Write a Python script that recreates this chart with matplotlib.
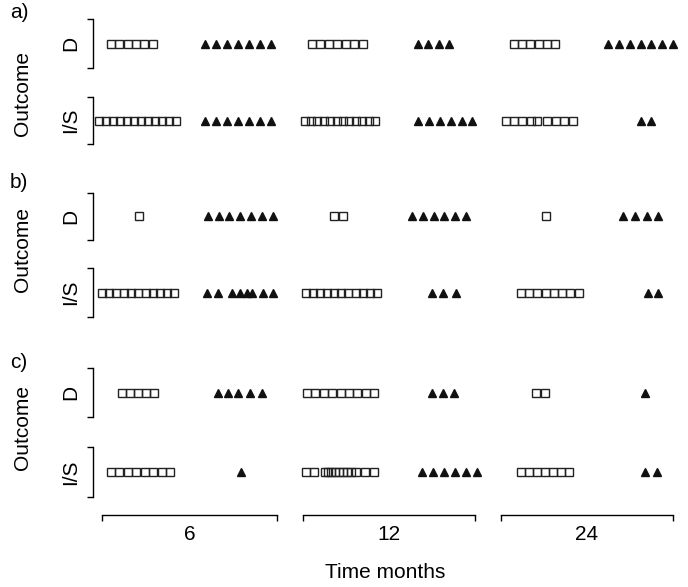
import matplotlib.pyplot as plt

plt.rcParams['font.family'] = ['Liberation Sans', 'DejaVu Sans']

# Layout: x scale runs 0..688 across the figure width
panels = ["a)", "b)", "c)"]
outcomes = ["D", "I/S"]
times = ["6", "12", "24"]

# marker positions on the x scale, per panel / outcome
# (open squares and filled triangles, all time points together)
a_d_squares = [111, 119, 128, 136, 144, 153,
               312, 320, 329, 337, 346, 354, 363,
               514, 522, 530, 539, 547, 555]
a_d_triangles = [205, 216, 227, 238, 249, 260, 271,
                 418, 428, 439, 449,
                 608, 619, 630, 641, 651, 662, 673]
a_is_squares = [99, 106, 113, 120, 127, 134, 141, 148, 155, 162, 169, 176,
                305, 311, 317, 324, 330, 337, 343, 349, 356, 362, 369, 375,
                506, 514, 522, 531, 537, 547, 556, 564, 573]
a_is_triangles = [205, 216, 227, 238, 249, 260, 271,
                  418, 429, 440, 451, 462, 472,
                  641, 651]

b_d_squares = [139,
               334, 343,
               546]
b_d_triangles = [208, 219, 229, 240, 251, 262, 273,
                 412, 423, 434, 444, 455, 466,
                 623, 635, 647, 658]
b_is_squares = [102, 109, 116, 124, 131, 138, 146, 153, 160, 167, 174,
                306, 313, 320, 327, 334, 341, 348, 356, 363, 370, 377,
                521, 529, 537, 546, 554, 562, 570, 579]
b_is_triangles = [207, 218, 232, 240, 247, 252, 263, 273,
                  432, 443, 456,
                  648, 658]

c_d_squares = [122, 130, 138, 146, 154,
               307, 315, 324, 332, 341, 349, 357, 366, 374,
               536, 545]
c_d_triangles = [218, 228, 238, 250, 262,
                 432, 443, 454,
                 645]
c_is_squares = [111, 119, 128, 136, 145, 153, 162, 170,
                306, 314, 325, 328, 331, 335, 339, 343, 347, 351, 356, 365, 374,
                521, 529, 537, 545, 553, 561, 569]
c_is_triangles = [241,
                  422, 433, 444, 455, 466, 477,
                  645, 657]

squares = [[a_d_squares, a_is_squares],
           [b_d_squares, b_is_squares],
           [c_d_squares, c_is_squares]]
triangles = [[a_d_triangles, a_is_triangles],
             [b_d_triangles, b_is_triangles],
             [c_d_triangles, c_is_triangles]]

W, H = 688, 587
fig = plt.figure(figsize=(W / 100, H / 100), dpi=100)

# row extents in pixels (top, bottom) for each panel / outcome
rows = [[(19, 68), (97, 144)],
        [(193, 240), (268, 317)],
        [(368, 417), (447, 497)]]
outcome_y = [93, 250, 427]
panel_y = [12, 183, 362]
spine_x = 93
fs = 15

for p, panel in enumerate(panels):
    for o, outcome in enumerate(outcomes):
        top, bot = rows[p][o]
        ax = fig.add_axes([spine_x / W, 1 - bot / H, (W - spine_x) / W, (bot - top) / H])
        ax.set_xlim(spine_x, W)
        ax.set_ylim(0, 1)
        y = [0.5]
        ax.plot(squares[p][o], y * len(squares[p][o]), ls='none', marker='s',
                ms=5.6, mfc='none', mec='#222222', mew=1.0)
        ax.plot(triangles[p][o], y * len(triangles[p][o]), ls='none', marker='^',
                ms=6, color='#111111')
        for s in ['top', 'right', 'bottom']:
            ax.spines[s].set_visible(False)
        ax.spines['left'].set_linewidth(1.0)
        ax.set_xticks([])
        ax.set_yticks([0, 1])
        ax.set_yticklabels([])
        ax.tick_params(axis='y', direction='out', length=4.3, width=1.0)
        fig.text(71 / W, 1 - (top + bot) / 2 / H, outcome, rotation=90,
                 ha='center', va='center', fontsize=fs)
    # panel label and y title
    fig.text(19 / W, 1 - panel_y[p] / H, panel, ha='center', va='center', fontsize=fs)
    fig.text(23 / W, 1 - outcome_y[p] / H, "Outcome", rotation=90,
             ha='center', va='center', fontsize=fs)

# bottom time brackets
brackets = [(102, 277), (303, 475), (501, 673)]
line_y = 515
for (x0, x1), t in zip(brackets, times):
    ax = fig.add_axes([x0 / W, 1 - line_y / H, (x1 - x0) / W, 0.01])
    ax.set_xlim(0, 1)
    for s in ['top', 'right', 'left']:
        ax.spines[s].set_visible(False)
    ax.spines['bottom'].set_linewidth(1.0)
    ax.set_yticks([])
    ax.set_xticks([0, 1])
    ax.set_xticklabels([])
    ax.tick_params(axis='x', direction='out', length=4.3, width=1.0)
    ax.patch.set_visible(False)
    fig.text((x0 + x1) / 2 / W, 1 - 535 / H, t, ha='center', va='center', fontsize=fs)

fig.text(385 / W, 1 - 573 / H, "Time months", ha='center', va='center', fontsize=fs)

fig.savefig("out.png", dpi=100)
